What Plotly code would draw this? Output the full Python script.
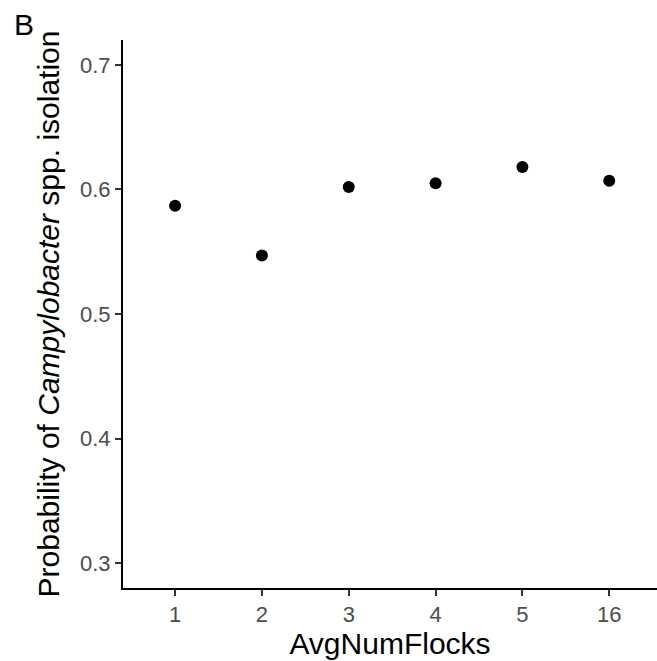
import plotly.graph_objects as go

categories = ["1", "2", "3", "4", "5", "16"]
probabilities = [0.587, 0.547, 0.602, 0.605, 0.618, 0.607]
y_ticks = [0.3, 0.4, 0.5, 0.6, 0.7]

W, H = 657, 661
L, R, T, B = 123, 0, 40, 73
pw, ph = W - L - R, H - T - B

fig = go.Figure()
fig.add_trace(go.Scatter(
    x=list(range(len(categories))), y=probabilities, mode="markers",
    marker=dict(color="black", size=12), showlegend=False,
))

font = "Liberation Sans, Arial, sans-serif"
fig.update_layout(
    width=W, height=H,
    margin=dict(l=L, r=R, t=T, b=B),
    plot_bgcolor="white", paper_bgcolor="white",
    font=dict(family=font),
    xaxis=dict(
        range=[-0.6, len(categories) - 1 + 0.55],
        tickvals=list(range(len(categories))), ticktext=categories,
        showline=True, linecolor="black", linewidth=2,
        ticks="outside", ticklen=6, tickwidth=1.5, tickcolor="#333333",
        tickfont=dict(size=22, color="#4d4d4d"),
        showgrid=False, zeroline=False,
        title=dict(text="AvgNumFlocks", font=dict(size=30, color="black"), standoff=4),
    ),
    yaxis=dict(
        range=[0.28, 0.72],
        tickvals=y_ticks, ticktext=[f"{v:.1f}" for v in y_ticks],
        showline=True, linecolor="black", linewidth=2,
        ticks="outside", ticklen=6, tickwidth=1.5, tickcolor="#333333",
        tickfont=dict(size=22, color="#4d4d4d"),
        showgrid=False, zeroline=False,
        title=dict(text="Probability of <i>Campylobacter</i> spp. isolation",
                   font=dict(size=30, color="black"), standoff=12),
    ),
)
fig.add_annotation(text="B", xref="paper", yref="paper",
                   x=(12 - L) / pw, y=1 + (T - 6) / ph,
                   xanchor="left", yanchor="top", showarrow=False,
                   font=dict(size=30, color="black", family=font))
fig.write_html("out.html")
